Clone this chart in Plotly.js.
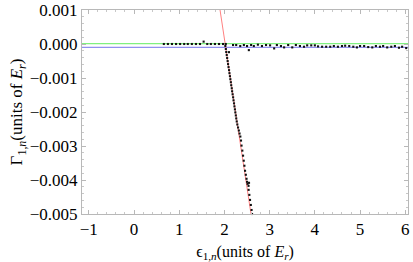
<!DOCTYPE html>
<html><head><meta charset="utf-8">
<script src="https://cdn.plot.ly/plotly-3.0.1.min.js"></script>
<style>html,body{margin:0;padding:0;background:#fff}#plot{width:413px;height:262px}</style>
</head><body><div id="plot"></div>
<script>
// Flat (bound) points left of threshold
const flatX = [0.66,0.75,0.84,0.93,1.02,1.11,1.19,1.28,1.37,1.46,1.54,1.62,1.70,1.79,1.88,1.97,2.03];
const flatY = [0,0,0,0,0,0,0,0,0,0,0.00007,0,0,0,0,0,0];
// Points right of threshold near zero
const rightX = [2.10,2.19,2.26,2.35,2.43,2.50,2.54,2.59,2.65,2.74,2.83,2.92,3.01,3.10,3.16,3.25,3.32,3.41,3.50,3.58,3.67,3.76,3.83,3.92,4.00,4.07,4.16,4.25,4.34,4.42,4.51,4.60,4.67,4.76,4.85,4.93,5.00,5.09,5.18,5.27,5.35,5.44,5.51,5.60,5.69,5.77,5.86,5.93,6.02,6.11];
const rightY = [-0.00024,-0.00003,-0.00003,-0.00006,-0.00003,-0.00006,-0.00018,-0.00003,-0.00006,-0.00002,-0.00006,-0.00003,-0.00004,-0.00013,-0.00003,-0.00006,-0.00010,-0.00003,-0.00010,-0.00003,-0.00006,-0.00008,-0.00004,-0.00004,-0.00004,-0.00007,-0.00008,-0.00008,-0.00008,-0.00006,-0.00008,-0.00006,-0.00005,-0.00006,-0.00008,-0.00010,-0.00006,-0.00006,-0.00009,-0.00010,-0.00006,-0.00008,-0.00006,-0.00010,-0.00008,-0.00006,-0.00011,-0.00008,-0.00012,-0.00007];
// Steep branch
const steepX = [2.020,2.031,2.040,2.051,2.060,2.071,2.080,2.091,2.102,2.111,2.122,2.131,2.142,2.150,2.162,2.170,2.181,2.192,2.201,2.212,2.221,2.232,2.241,2.252,2.261,2.272,2.285,2.301,2.319,2.334,2.352,2.367,2.378,2.396,2.412,2.427,2.442,2.456,2.473,2.489,2.500,2.511,2.533,2.544,2.535,2.551,2.566,2.584,2.600,2.611];
const steepY = [-0.000059,-0.000148,-0.000237,-0.000325,-0.000414,-0.000503,-0.000592,-0.000680,-0.000769,-0.000858,-0.000947,-0.001036,-0.001124,-0.001213,-0.001302,-0.001391,-0.001479,-0.001568,-0.001657,-0.001746,-0.001834,-0.001923,-0.002012,-0.002101,-0.002189,-0.002278,-0.002367,-0.002456,-0.002544,-0.002633,-0.002722,-0.002840,-0.002988,-0.003136,-0.003284,-0.003432,-0.003580,-0.003728,-0.003846,-0.003964,-0.004053,-0.004112,-0.004172,-0.004083,-0.004290,-0.004438,-0.004586,-0.004734,-0.004882,-0.005000];
// Reference lines
const greenX = [-1.15, 6.06], greenY = [0.00001, 0.00001];
const blueX = [-1.15, 6.06], blueY = [-0.0001, -0.0001];
const redX = [1.903, 2.588], redY = [0.001, -0.005];

const pt = {mode:'markers', type:'scatter', marker:{symbol:'square', size:2.1, color:'#111'}, hoverinfo:'skip', cliponaxis:false};
const traces = [
  {x:greenX, y:greenY, mode:'lines', line:{color:'#80f080', width:1.1}},
  {x:blueX, y:blueY, mode:'lines', line:{color:'#9090f0', width:1.1}},
  {x:redX, y:redY, mode:'lines', line:{color:'#ff8080', width:1}},
  Object.assign({x:flatX, y:flatY}, pt),
  Object.assign({x:rightX, y:rightY}, pt),
  Object.assign({x:steepX, y:steepY}, pt)
];
const axisCommon = {
  showgrid:false, zeroline:false, showline:true, linecolor:'#b8b8b8', linewidth:1,
  mirror:'allticks', ticks:'inside', ticklen:4, tickcolor:'#b8b8b8', tickwidth:1,
  tickfont:{family:'Liberation Serif', size:17, color:'#000'}
};
const layout = {
  width:413, height:262, margin:{l:82, r:5, t:10, b:48},
  paper_bgcolor:'#fff', plot_bgcolor:'#fff', showlegend:false,
  font:{family:'Liberation Serif', color:'#000'},
  xaxis: Object.assign({}, axisCommon, {
    range:[-1.15, 6.06], tickvals:[-1,0,1,2,3,4,5,6], ticktext:['\u22121','0','1','2','3','4','5','6'],
    minor:{ticks:'inside', ticklen:2, tickcolor:'#c8c8c8', dtick:0.2, showgrid:false},
    title:{text:'\u03f5<sub>1,<i>n</i></sub>(units of <i>E<sub>r</sub></i>)', font:{family:'Liberation Serif', size:16}, standoff:8}
  }),
  yaxis: Object.assign({}, axisCommon, {
    range:[-0.005, 0.001], tickvals:[-0.005,-0.004,-0.003,-0.002,-0.001,0,0.001],
    ticktext:['\u22120.005','\u22120.004','\u22120.003','\u22120.002','\u22120.001','0.000','0.001'],
    minor:{ticks:'inside', ticklen:2, tickcolor:'#c8c8c8', dtick:0.0002, showgrid:false},
    title:{text:'\u0393<sub>1,<i>n</i></sub>(units of <i>E<sub>r</sub></i>)', font:{family:'Liberation Serif', size:17}, standoff:2}
  })
};
Plotly.newPlot('plot', traces, layout, {staticPlot:true, displayModeBar:false});
</script></body></html>
